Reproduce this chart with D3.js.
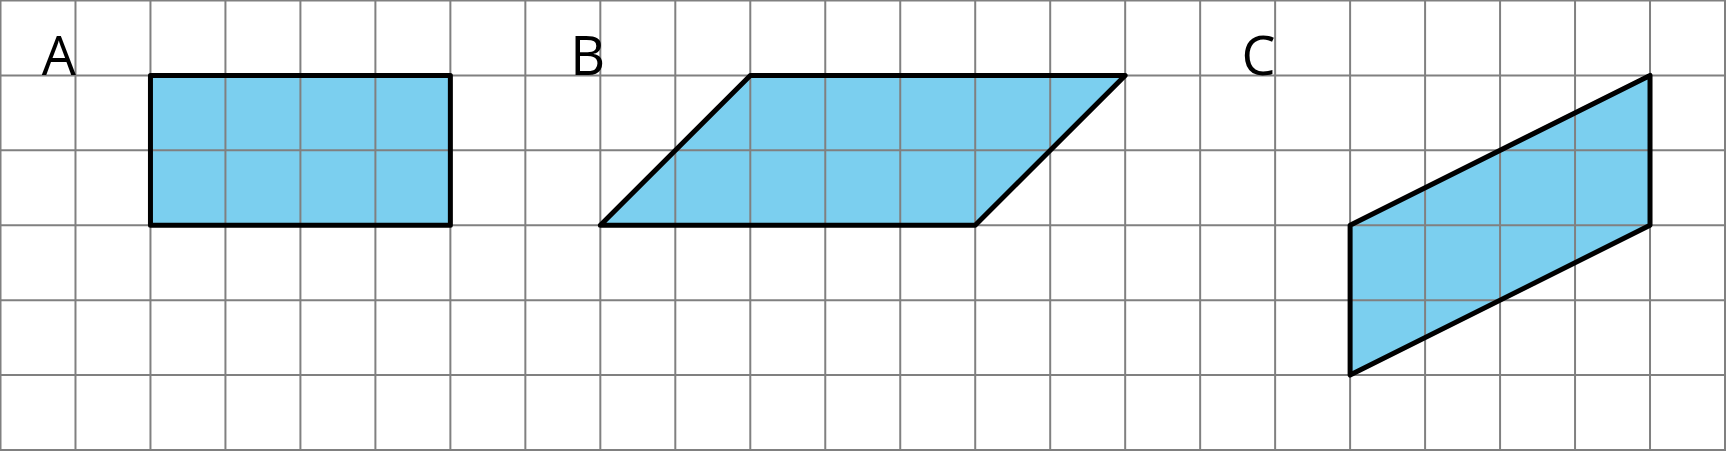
<!DOCTYPE html>
<html><head><meta charset="utf-8">
<script src="https://cdn.jsdelivr.net/npm/d3@7"></script>
<style>body{margin:0;background:#fff}svg{display:block}</style>
</head><body>
<script>
const cols = 23, rows = 6;
const labels = [{t:"A",x:0.55},{t:"B",x:7.6},{t:"C",x:16.55}];
const shapes = [
  [[2,1],[6,1],[6,3],[2,3]],
  [[10,1],[15,1],[13,3],[8,3]],
  [[22,1],[22,3],[18,5],[18,3]]
];
const W=1726,H=451;
const x=d3.scaleLinear().domain([0,cols]).range([0.5,W-1]);
const y=d3.scaleLinear().domain([0,rows]).range([0.5,H-1]);
const svg=d3.select("body").append("svg").attr("width",W).attr("height",H);
svg.selectAll("path.s").data(shapes).join("path")
  .attr("d",d=>"M"+d.map(p=>[x(p[0]),y(p[1])].join(",")).join("L")+"Z")
  .attr("fill","#7bcfef");
const g=svg.append("g").attr("stroke","#808080").attr("stroke-width",2);
g.selectAll("line.v").data(d3.range(cols+1)).join("line")
  .attr("x1",d=>x(d)).attr("x2",d=>x(d)).attr("y1",0).attr("y2",H);
g.selectAll("line.h").data(d3.range(rows+1)).join("line")
  .attr("y1",d=>y(d)).attr("y2",d=>y(d)).attr("x1",0).attr("x2",W);
svg.selectAll("path.o").data(shapes).join("path")
  .attr("d",d=>"M"+d.map(p=>[x(p[0]),y(p[1])].join(",")).join("L")+"Z")
  .attr("fill","none").attr("stroke","#000").attr("stroke-width",5).attr("stroke-linejoin","round");
svg.selectAll("text").data(labels).join("text")
  .attr("x",d=>x(d.x)).attr("y",y(1)).text(d=>d.t)
  .attr("font-family","Open Sans").attr("font-size",54).attr("fill","#000");
</script>
</body></html>
